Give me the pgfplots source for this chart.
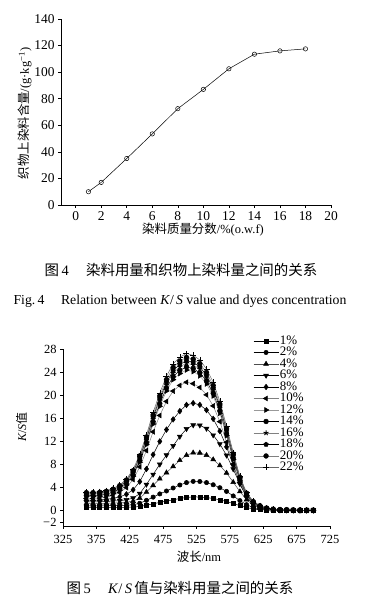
\documentclass[border=0pt]{standalone}
\usepackage{pgfplots}
\pgfplotsset{compat=1.18}
\usepackage{pgfplotstable}
\usepackage{fontspec}
\setmainfont{Liberation Serif}
\newfontfamily\cjk{Noto Sans CJK SC}
\usetikzlibrary{plotmarks}

\pgfplotstableread{
wl   s1   s2   s4    s6    s8    s10   s12   s14   s16   s18   s20   s22
360 0.50 0.80 1.20 1.50 1.80 2.10 2.40 2.60 2.80 3.00 3.10 3.20
370 0.50 0.80 1.20 1.50 1.80 2.10 2.40 2.60 2.80 3.00 3.10 3.20
380 0.50 0.80 1.20 1.50 1.83 2.16 2.47 2.67 2.87 3.07 3.17 3.28
390 0.51 0.82 1.25 1.57 1.93 2.31 2.63 2.83 3.04 3.24 3.34 3.45
400 0.52 0.85 1.29 1.64 2.11 2.62 2.97 3.18 3.39 3.60 3.71 3.83
410 0.53 0.87 1.34 1.71 2.37 3.14 3.54 3.76 3.98 4.20 4.32 4.45
420 0.55 0.91 1.43 1.85 2.81 3.97 4.44 4.68 4.92 5.15 5.30 5.45
430 0.59 1.00 1.62 2.15 3.58 5.37 5.96 6.22 6.49 6.73 6.91 7.10
440 0.69 1.25 2.14 2.93 5.02 7.59 8.39 8.68 9.00 9.27 9.50 9.76
450 0.91 1.76 3.20 4.52 7.22 10.42 11.47 11.81 12.20 12.50 12.79 13.13
460 1.16 2.32 4.36 6.27 9.70 13.68 15.03 15.43 15.89 16.23 16.61 17.03
470 1.40 2.88 5.52 8.02 12.01 16.53 18.13 18.59 19.11 19.49 19.93 20.44
480 1.63 3.39 6.58 9.63 14.06 18.97 20.79 21.28 21.86 22.27 22.76 23.34
490 1.85 3.91 7.65 11.24 15.84 20.77 22.76 23.28 23.90 24.33 24.87 25.50
500 2.08 4.43 8.72 12.86 17.28 21.75 23.82 24.36 24.99 25.43 25.99 26.65
510 2.26 4.85 9.60 14.19 18.36 22.31 24.43 24.97 25.62 26.06 26.63 27.30
520 2.35 5.06 10.04 14.85 18.67 22.06 24.15 24.69 25.32 25.76 26.33 26.99
530 2.34 5.04 10.02 14.82 18.37 21.40 23.42 23.94 24.56 24.98 25.53 26.18
540 2.25 4.85 9.62 14.24 17.46 20.11 22.01 22.51 23.09 23.49 24.01 24.61
550 2.08 4.47 8.86 13.10 15.94 18.19 19.92 20.38 20.91 21.28 21.75 22.30
560 1.85 3.96 7.83 11.56 13.80 15.45 16.92 17.32 17.78 18.11 18.51 18.98
570 1.56 3.32 6.52 9.59 11.06 11.87 13.02 13.34 13.72 13.99 14.30 14.67
580 1.21 2.53 4.92 7.20 7.94 8.06 8.86 9.11 9.38 9.60 9.82 10.07
590 0.84 1.72 3.29 4.60 4.80 4.90 5.11 5.28 5.47 5.62 5.76 5.91
600 0.51 1.01 1.88 2.30 2.40 2.50 2.60 2.71 2.83 2.93 3.01 3.09
610 0.27 0.51 0.91 1.10 1.15 1.20 1.29 1.36 1.43 1.50 1.54 1.59
620 0.14 0.25 0.42 0.55 0.58 0.60 0.66 0.70 0.75 0.79 0.82 0.84
630 0.07 0.12 0.19 0.25 0.28 0.29 0.33 0.36 0.38 0.41 0.42 0.43
640 0.04 0.06 0.08 0.11 0.13 0.15 0.17 0.18 0.20 0.21 0.22 0.22
650 0.02 0.03 0.05 0.06 0.07 0.08 0.10 0.10 0.11 0.12 0.12 0.13
660 0.02 0.02 0.04 0.05 0.05 0.06 0.07 0.08 0.08 0.09 0.09 0.10
670 0.01 0.02 0.02 0.03 0.04 0.04 0.05 0.05 0.06 0.06 0.06 0.06
680 0.01 0.01 0.01 0.02 0.02 0.02 0.02 0.03 0.03 0.03 0.03 0.03
690 0.01 0.01 0.01 0.02 0.02 0.02 0.02 0.03 0.03 0.03 0.03 0.03
700 0.01 0.01 0.01 0.02 0.02 0.02 0.02 0.03 0.03 0.03 0.03 0.03
}\ksdata

\begin{document}
\begin{tikzpicture}[x=1bp,y=1bp]
\path[use as bounding box] (0,0) rectangle (378,605);

% ---------- Figure 4 ----------
\begin{axis}[
  at={(61bp,400bp)}, anchor=south west, scale only axis,
  width=270bp, height=186bp,
  xmin=-1.15, xmax=20, ymin=0, ymax=140,
  axis x line=bottom, axis y line=left,
  axis line style={-, line width=0.6pt},
  xtick={0,2,...,20}, ytick={0,20,...,140},
  tick align=outside, major tick length=3bp,
  tick style={line width=0.6pt, black},
  ticklabel style={font=\fontsize{13.5}{15}\selectfont},
  /pgf/number format/assume math mode=true,
  clip=false,
]
\addplot[black, line width=0.5pt, mark=o, mark size=2.2bp,
  mark options={fill=white, line width=0.5pt}] coordinates {
  (1,10) (2,17) (4,35) (6,53.5) (8,72.5) (10,87) (12,102.5) (14,113.5) (16,116) (18,117.5)};
\end{axis}

\node[rotate=90, font=\fontsize{12.5}{14}\selectfont] at (25,491.5)
  {{\cjk 织物上染料含量}/(g·kg\textsuperscript{−1})};
\node[font=\fontsize{12.5}{14}\selectfont] at (203,375)
  {{\cjk 染料质量分数}/\%(o.w.f)};

\node[font=\fontsize{14.5}{16}\selectfont] at (181,335)
  {{\cjk 图}\,4\hspace{1.2em}{\cjk 染料用量和织物上染料量之间的关系}};
\node[font=\fontsize{13.8}{15}\selectfont] at (180,303.5)
  {Fig.\,4\hspace{1.2em}Relation between \textit{K}/\,\textit{S} value and dyes concentration};

% ---------- Figure 5 ----------
\begin{axis}[
  at={(63bp,79bp)}, anchor=south west, scale only axis,
  width=267bp, height=176.5bp,
  xmin=325, xmax=725, ymin=-2.7, ymax=28,
  axis x line=bottom, axis y line=left,
  axis line style={-, line width=0.6pt},
  xtick={325,375,...,725}, ytick={-2,0,4,8,12,16,20,24,28},
  yticklabels={−2,0,4,8,12,16,20,24,28},
  tick align=outside, major tick length=3bp,
  tick style={line width=0.6pt, black},
  ticklabel style={font=\fontsize{12.5}{14}\selectfont},
  /pgf/number format/assume math mode=true,
  xticklabel style={yshift=-3bp},
  clip=false,
  every axis plot/.append style={line width=0.5pt},
  legend style={at={(axis description cs:0.712,1.082)}, anchor=north west,
    draw=none, fill=none, font=\fontsize{13}{13}\selectfont,
    row sep=0pt, inner sep=0pt,
    nodes={inner sep=1bp, text height=8bp, text depth=1.5bp, anchor=west}},
  legend cell align=left,
  legend image code/.code={\draw[mark repeat=2,mark phase=2,#1] plot coordinates {(0bp,0bp) (12.5bp,0bp) (25bp,0bp)};},
]
\addplot[black, mark=square*, mark size=2bp, mark options={fill=black}] table[x=wl,y=s1]{\ksdata};
\addlegendentry{1\%}
\addplot[black, mark=*, mark size=2.2bp, mark options={fill=black}] table[x=wl,y=s2]{\ksdata};
\addlegendentry{2\%}
\addplot[black!70, mark=triangle*, mark size=2.8bp, mark options={fill=black, draw=black}] table[x=wl,y=s4]{\ksdata};
\addlegendentry{4\%}
\addplot[black, mark=triangle*, mark size=2.8bp, mark options={fill=black, rotate=180}] table[x=wl,y=s6]{\ksdata};
\addlegendentry{6\%}
\addplot[black, mark=diamond*, mark size=2.8bp, mark options={fill=black}] table[x=wl,y=s8]{\ksdata};
\addlegendentry{8\%}
\addplot[gray, mark=triangle*, mark size=2.8bp, mark options={fill=black, draw=black, rotate=90}] table[x=wl,y=s10]{\ksdata};
\addlegendentry{10\%}
\addplot[black!40, mark=triangle*, mark size=2.8bp, mark options={fill=black, draw=black, rotate=-90}] table[x=wl,y=s12]{\ksdata};
\addlegendentry{12\%}
\addplot[black, mark=*, mark size=2.4bp, mark options={fill=black}] table[x=wl,y=s14]{\ksdata};
\addlegendentry{14\%}
\addplot[gray, mark=star, mark size=2.6bp, mark options={draw=black, line width=0.9pt}] table[x=wl,y=s16]{\ksdata};
\addlegendentry{16\%}
\addplot[black, mark=pentagon*, mark size=2.4bp, mark options={fill=black}] table[x=wl,y=s18]{\ksdata};
\addlegendentry{18\%}
\addplot[gray, mark=*, mark size=2.4bp, mark options={fill=black, draw=black}] table[x=wl,y=s20]{\ksdata};
\addlegendentry{20\%}
\addplot[black!60, mark=+, mark size=3bp, mark options={draw=black, line width=0.5pt}] table[x=wl,y=s22]{\ksdata};
\addlegendentry{22\%}
\end{axis}

\node[font=\fontsize{12.5}{14}\selectfont] at (199,48.3) {{\cjk 波长}/nm};
\node[rotate=90, font=\fontsize{12}{13}\selectfont] at (21.7,178) {\textit{K}/\textit{S}{\cjk 值}};
\node[font=\fontsize{14.5}{16}\selectfont] at (180,17)
  {{\cjk 图}\,5\hspace{1.2em}\textit{K}/\,\textit{S}\,{\cjk 值与染料用量之间的关系}};
\end{tikzpicture}
\end{document}
